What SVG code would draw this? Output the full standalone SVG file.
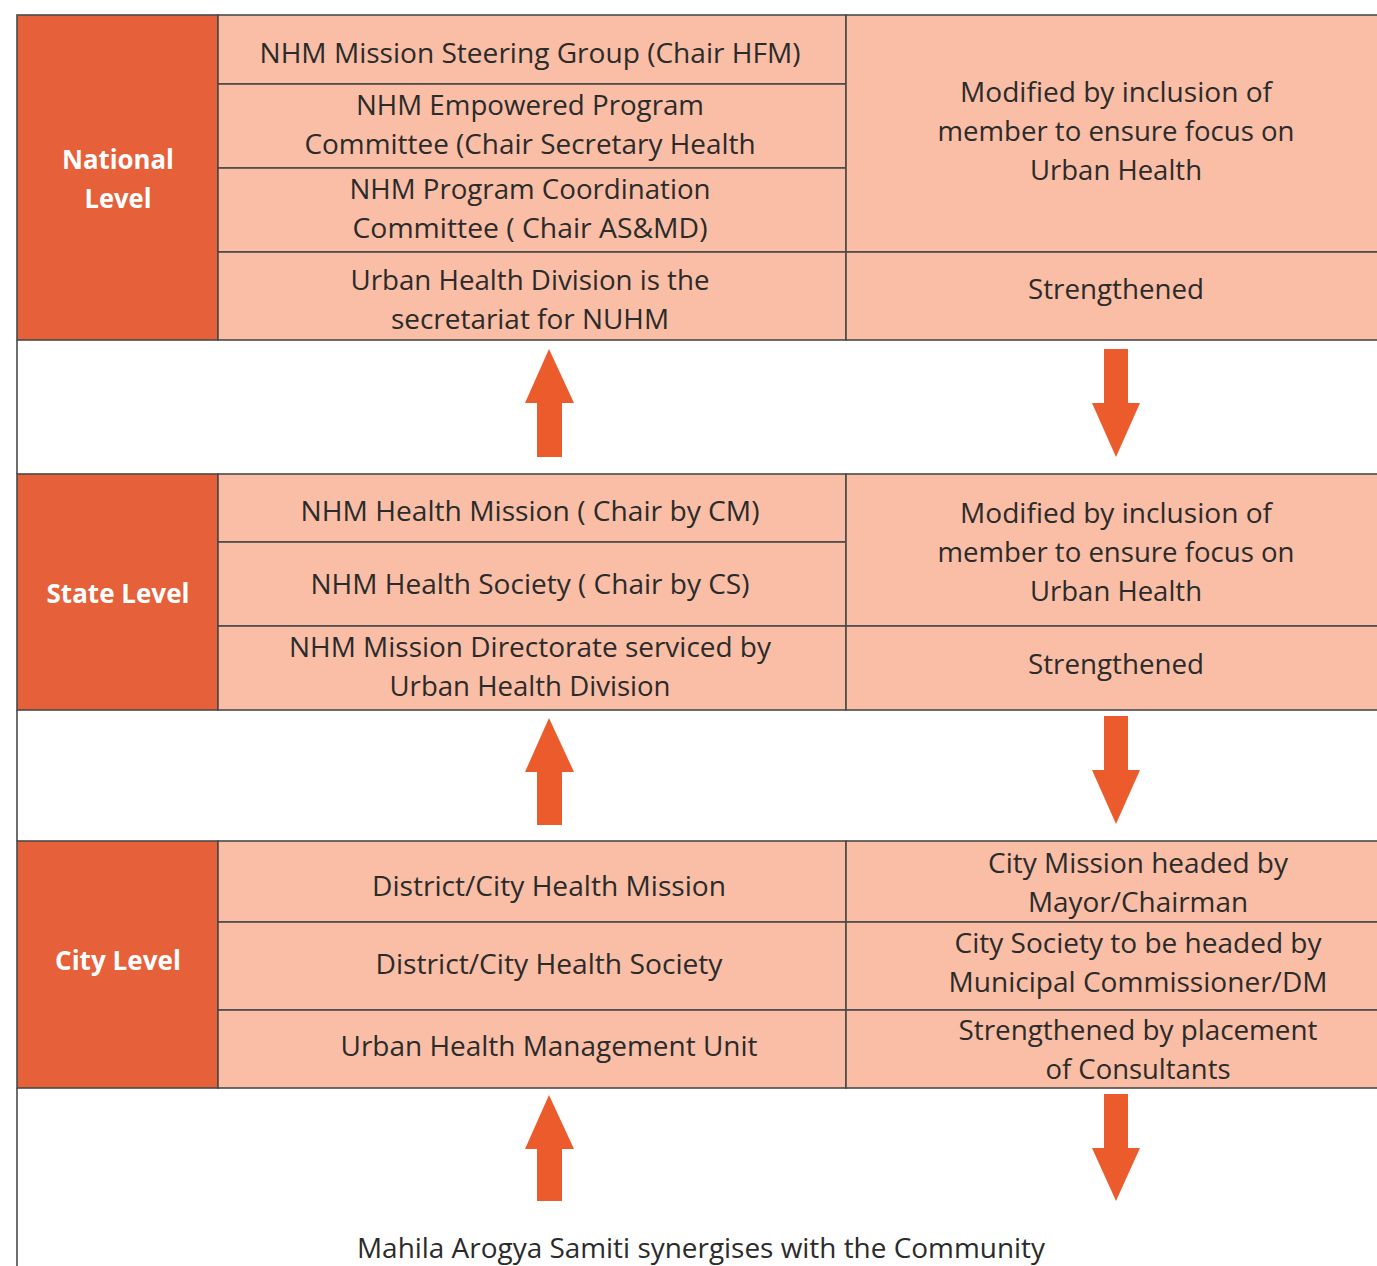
<svg xmlns="http://www.w3.org/2000/svg" width="1377" height="1266" viewBox="0 0 1377 1266">
<defs>
<style>
.bg{fill:#ffffff}
.lvl{fill:#E6603A;stroke:#4a4a4a;stroke-width:1.6}
.cell{fill:#F9BEA5;stroke:#4a4a4a;stroke-width:1.6}
.t{font-family:"Open Sans","Noto Sans","Liberation Sans",sans-serif;font-size:27px;fill:#2b2b2b;text-anchor:middle}
.h{font-family:"Open Sans","Noto Sans","Liberation Sans",sans-serif;font-size:26px;font-weight:bold;fill:#ffffff;text-anchor:middle}
.arr{fill:#EC5B2C}
.edge{stroke:#4a4a4a;stroke-width:1.6;fill:none}
</style>
</defs>
<rect class="bg" x="0" y="0" width="1377" height="1266"/>
<line class="edge" x1="17" y1="340" x2="17" y2="474"/>
<line class="edge" x1="17" y1="710" x2="17" y2="841"/>
<line class="edge" x1="17" y1="1088" x2="17" y2="1266"/>

<g id="national">
<g id="national-label"><rect class="lvl" x="17" y="15" width="201" height="325"/>
<text class="h" x="118" y="169" textLength="112" lengthAdjust="spacingAndGlyphs">National</text>
<text class="h" x="118" y="208" textLength="67" lengthAdjust="spacingAndGlyphs">Level</text></g>
<g id="nat-steering"><rect class="cell" x="218" y="15" width="628" height="69"/>
<text class="t" x="530" y="63" textLength="541" lengthAdjust="spacingAndGlyphs">NHM Mission Steering Group (Chair HFM)</text></g>
<g id="nat-empowered"><rect class="cell" x="218" y="84" width="628" height="84"/>
<text class="t" x="530" y="115" textLength="348" lengthAdjust="spacingAndGlyphs">NHM Empowered Program</text>
<text class="t" x="530" y="154" textLength="451" lengthAdjust="spacingAndGlyphs">Committee (Chair Secretary Health</text></g>
<g id="nat-coordination"><rect class="cell" x="218" y="168" width="628" height="84"/>
<text class="t" x="530" y="199" textLength="361" lengthAdjust="spacingAndGlyphs">NHM Program Coordination</text>
<text class="t" x="530" y="238" textLength="355" lengthAdjust="spacingAndGlyphs">Committee ( Chair AS&amp;MD)</text></g>
<g id="nat-division"><rect class="cell" x="218" y="252" width="628" height="88"/>
<text class="t" x="530" y="290" textLength="359" lengthAdjust="spacingAndGlyphs">Urban Health Division is the</text>
<text class="t" x="530" y="329" textLength="278" lengthAdjust="spacingAndGlyphs">secretariat for NUHM</text></g>
<g id="nat-modified"><rect class="cell" x="846" y="15" width="540" height="237"/>
<text class="t" x="1116" y="102" textLength="312" lengthAdjust="spacingAndGlyphs">Modified by inclusion of</text>
<text class="t" x="1116" y="141" textLength="357" lengthAdjust="spacingAndGlyphs">member to ensure focus on</text>
<text class="t" x="1116" y="180" textLength="172" lengthAdjust="spacingAndGlyphs">Urban Health</text></g>
<g id="nat-strengthened"><rect class="cell" x="846" y="252" width="540" height="88"/>
<text class="t" x="1116" y="299" textLength="176" lengthAdjust="spacingAndGlyphs">Strengthened</text></g>
</g>

<g id="state">
<g id="state-label"><rect class="lvl" x="17" y="474" width="201" height="236"/>
<text class="h" x="118" y="603" textLength="143" lengthAdjust="spacingAndGlyphs">State Level</text></g>
<g id="state-mission"><rect class="cell" x="218" y="474" width="628" height="68"/>
<text class="t" x="530" y="521" textLength="459" lengthAdjust="spacingAndGlyphs">NHM Health Mission ( Chair by CM)</text></g>
<g id="state-society"><rect class="cell" x="218" y="542" width="628" height="84"/>
<text class="t" x="530" y="594" textLength="439" lengthAdjust="spacingAndGlyphs">NHM Health Society ( Chair by CS)</text></g>
<g id="state-directorate"><rect class="cell" x="218" y="626" width="628" height="84"/>
<text class="t" x="530" y="657" textLength="482" lengthAdjust="spacingAndGlyphs">NHM Mission Directorate serviced by</text>
<text class="t" x="530" y="696" textLength="281" lengthAdjust="spacingAndGlyphs">Urban Health Division</text></g>
<g id="state-modified"><rect class="cell" x="846" y="474" width="540" height="152"/>
<text class="t" x="1116" y="523" textLength="312" lengthAdjust="spacingAndGlyphs">Modified by inclusion of</text>
<text class="t" x="1116" y="562" textLength="357" lengthAdjust="spacingAndGlyphs">member to ensure focus on</text>
<text class="t" x="1116" y="601" textLength="172" lengthAdjust="spacingAndGlyphs">Urban Health</text></g>
<g id="state-strengthened"><rect class="cell" x="846" y="626" width="540" height="84"/>
<text class="t" x="1116" y="674" textLength="176" lengthAdjust="spacingAndGlyphs">Strengthened</text></g>
</g>

<g id="city">
<g id="city-label"><rect class="lvl" x="17" y="841" width="201" height="247"/>
<text class="h" x="118" y="970" textLength="126" lengthAdjust="spacingAndGlyphs">City Level</text></g>
<g id="city-mission"><rect class="cell" x="218" y="841" width="628" height="81"/>
<text class="t" x="549" y="896" textLength="354" lengthAdjust="spacingAndGlyphs">District/City Health Mission</text></g>
<g id="city-society"><rect class="cell" x="218" y="922" width="628" height="88"/>
<text class="t" x="549" y="974" textLength="347" lengthAdjust="spacingAndGlyphs">District/City Health Society</text></g>
<g id="city-unit"><rect class="cell" x="218" y="1010" width="628" height="78"/>
<text class="t" x="549" y="1056" textLength="417" lengthAdjust="spacingAndGlyphs">Urban Health Management Unit</text></g>
<g id="city-mission-head"><rect class="cell" x="846" y="841" width="540" height="81"/>
<text class="t" x="1138" y="873" textLength="300" lengthAdjust="spacingAndGlyphs">City Mission headed by</text>
<text class="t" x="1138" y="912" textLength="220" lengthAdjust="spacingAndGlyphs">Mayor/Chairman</text></g>
<g id="city-society-head"><rect class="cell" x="846" y="922" width="540" height="88"/>
<text class="t" x="1138" y="953" textLength="367" lengthAdjust="spacingAndGlyphs">City Society to be headed by</text>
<text class="t" x="1138" y="992" textLength="379" lengthAdjust="spacingAndGlyphs">Municipal Commissioner/DM</text></g>
<g id="city-consultants"><rect class="cell" x="846" y="1010" width="540" height="78"/>
<text class="t" x="1138" y="1040" textLength="359" lengthAdjust="spacingAndGlyphs">Strengthened by placement</text>
<text class="t" x="1138" y="1079" textLength="185" lengthAdjust="spacingAndGlyphs">of Consultants</text></g>
</g>

<g id="community">
<text class="t" x="701" y="1258" textLength="688" lengthAdjust="spacingAndGlyphs">Mahila Arogya Samiti synergises with the Community</text>
</g>

<g id="connectors">
<polygon class="arr" points="549,349 574,403 562,403 562,457 537,457 537,403 525,403"/>
<polygon class="arr" points="1104,349 1128,349 1128,403 1140,403 1116,457 1092,403 1104,403"/>
<polygon class="arr" points="549,718 574,772 562,772 562,825 537,825 537,772 525,772"/>
<polygon class="arr" points="1104,716 1128,716 1128,770 1140,770 1116,824 1092,770 1104,770"/>
<polygon class="arr" points="549,1095 574,1149 562,1149 562,1201 537,1201 537,1149 525,1149"/>
<polygon class="arr" points="1104,1094 1128,1094 1128,1148 1140,1148 1116,1201 1092,1148 1104,1148"/>
</g>
</svg>
